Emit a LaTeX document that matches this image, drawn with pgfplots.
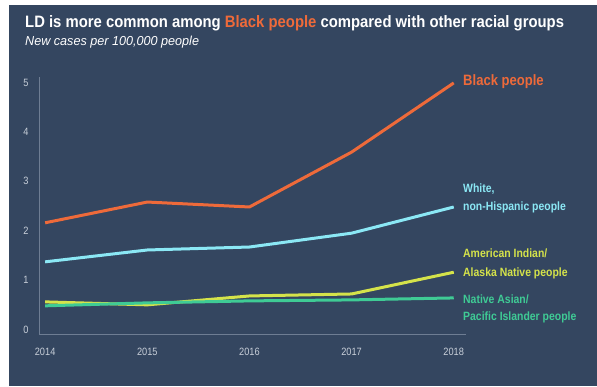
\documentclass[border=0pt]{standalone}
\usepackage{pgfplots}
\pgfplotsset{compat=1.18}
\usepackage{fontspec}
\setmainfont{Liberation Sans}
\newfontfamily\cond[FakeStretch=0.87]{Liberation Sans}
\newfontfamily\condt[FakeStretch=0.9]{Liberation Sans}
\newfontfamily\condi[FakeStretch=0.97]{Liberation Sans}
\definecolor{bg}{HTML}{344660}
\definecolor{axcol}{HTML}{6E7D93}
\definecolor{ticklab}{HTML}{C8CFD9}
\definecolor{corange}{HTML}{EE6A3A}
\definecolor{ccyan}{HTML}{8BE8F5}
\definecolor{cyellow}{HTML}{D5E34A}
\definecolor{cgreen}{HTML}{3FCB95}
\begin{document}
\begin{tikzpicture}[x=1pt,y=1pt]
\useasboundingbox (0,0) rectangle (597,386);
\fill[white] (0,0) rectangle (597,386);
\fill[bg] (9,0) rectangle (597,381);
\begin{axis}[
  at={(39pt,52pt)}, anchor=south west,
  scale only axis, width=427pt, height=257pt,
  xmin=2013.94, xmax=2018.12, ymin=-0.09, ymax=5.11,
  axis lines=left,
  axis line style={draw=axcol, line width=1pt, -},
  major tick length=0pt,
  xtick={2014,2015,2016,2017,2018},
  xticklabels={2014,2015,2016,2017,2018},
  ytick={0,1,2,3,4,5},
  yticklabels={0,1,2,3,4,5},
  tick label style={font=\cond\fontsize{10.6}{12}\selectfont, text=ticklab},
  xticklabel style={yshift=-10.5pt},
  yticklabel style={xshift=-7pt},
  clip=false,
]
\addplot[corange, line width=3pt, line join=round] coordinates {(2014,2.16) (2015,2.58) (2016,2.48) (2017,3.59) (2018,4.99)};
\addplot[ccyan, line width=3pt, line join=round] coordinates {(2014,1.37) (2015,1.61) (2016,1.67) (2017,1.95) (2018,2.48)};
\addplot[cyellow, line width=3pt, line join=round] coordinates {(2014,0.56) (2015,0.50) (2016,0.68) (2017,0.72) (2018,1.16)};
\addplot[cgreen, line width=3pt, line join=round] coordinates {(2014,0.48) (2015,0.54) (2016,0.58) (2017,0.60) (2018,0.64)};
\end{axis}
\node[anchor=base west, inner sep=0pt, font=\condt\bfseries\fontsize{16.5}{18}\selectfont, text=white] at (25,358)
  {LD is more common among \textcolor{corange}{Black people} compared with other racial groups};
\node[anchor=base west, inner sep=0pt, font=\condi\itshape\fontsize{13}{14}\selectfont, text=white] at (25,340)
  {New cases per 100,000 people};
\node[anchor=base west, inner sep=0pt, font=\cond\bfseries\fontsize{15}{18}\selectfont, text=corange] at (463,300.5) {Black people};
\begin{scope}[every node/.style={anchor=base west, inner sep=0pt, font=\cond\bfseries\fontsize{12}{14}\selectfont}]
\node[text=ccyan] at (463,193.5) {White,};
\node[text=ccyan] at (463,175.5) {non-Hispanic people};
\node[text=cyellow] at (463,128.5) {American Indian/};
\node[text=cyellow] at (463,109.5) {Alaska Native people};
\node[text=cgreen] at (463,82.5) {Native Asian/};
\node[text=cgreen] at (463,65.5) {Pacific Islander people};
\end{scope}
\end{tikzpicture}
\end{document}
